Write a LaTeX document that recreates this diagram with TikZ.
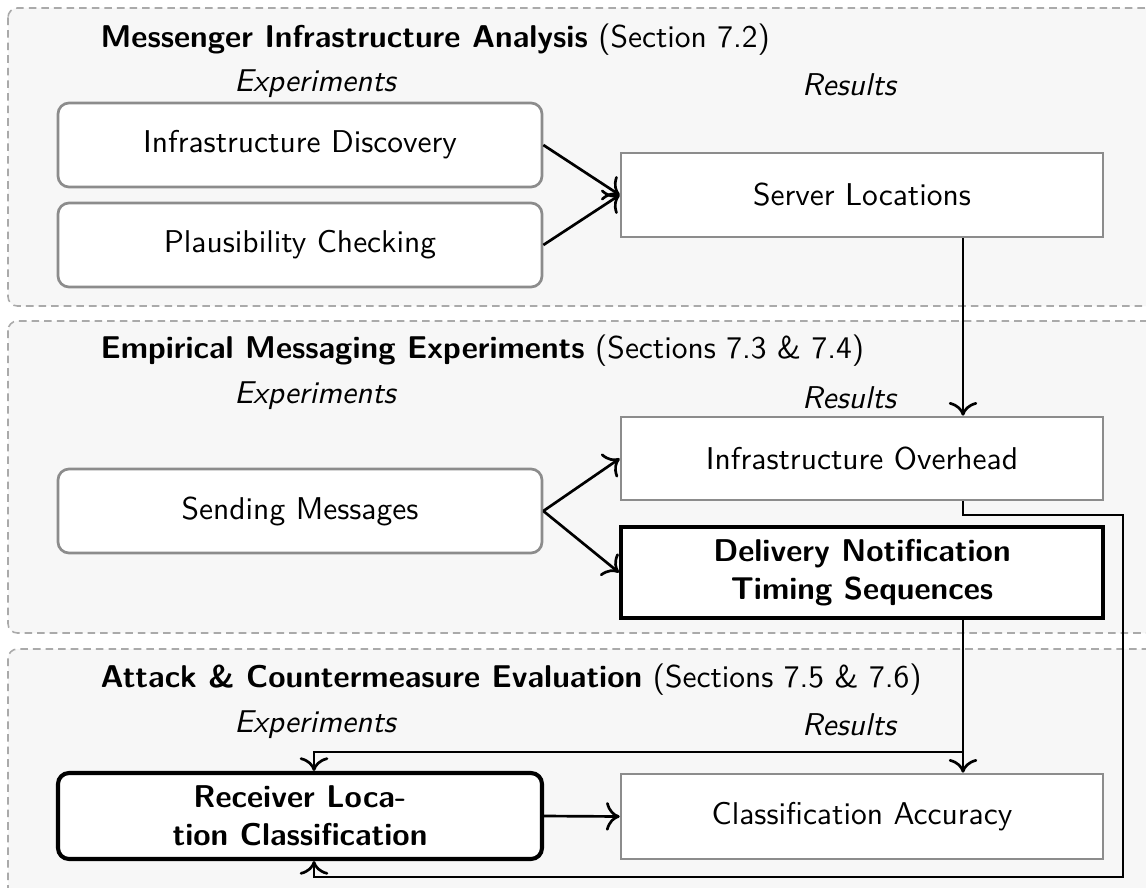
\documentclass[tikz,border=0pt]{standalone}
\usetikzlibrary{calc,arrows.meta}
\definecolor{panelfill}{HTML}{F7F7F7}
\definecolor{paneldash}{HTML}{AAAAAA}
\definecolor{boxgray}{HTML}{8C8C8C}
\begin{document}
\begin{tikzpicture}[x=0.3175pt,y=-0.3175pt,
  panel/.style={fill=panelfill,draw=paneldash,line width=0.5pt,dash pattern=on 2.4pt off 1.6pt,rounded corners=3pt},
  expbox/.style={draw=boxgray,fill=white,line width=0.85pt,rounded corners=3.5pt,minimum width={484*0.3175pt},minimum height={84*0.3175pt},inner sep=0pt,font=\sffamily,align=center},
  resbox/.style={draw=boxgray,fill=white,line width=0.85pt,minimum width={482*0.3175pt},minimum height={84*0.3175pt},inner sep=0pt,font=\sffamily,align=center},
  keybox/.style={draw=black,line width=1.3pt,font=\sffamily\bfseries},
  ptitle/.style={anchor=base west,inner sep=0pt,font=\sffamily},
  colhead/.style={anchor=base,inner sep=0pt,font=\sffamily\itshape},
  arr/.style={-{To[scale=1.25]},line width=0.85pt,black}]
\path[use as bounding box] (0,0) rectangle (1146,888);
\clip (0,0) rectangle (1146,888);
\fill[white] (0,0) rectangle (1146,888);
% panels
\path[panel] (8,8) rectangle (1165,306);
\path[panel] (8,321) rectangle (1165,633);
\path[panel] (8,649) rectangle (1165,905);
% titles
\node[ptitle] (t1) at (100,48) {\textbf{Messenger Infrastructure Analysis} (Section 7.2)};
\node[ptitle] (t2) at (100,358) {\textbf{Empirical Messaging Experiments} (Sections 7.3 \& 7.4)};
\node[ptitle] (t3) at (100,687) {\textbf{Attack \& Countermeasure Evaluation} (Sections 7.5 \& 7.6)};
\node[colhead] (e1) at (315,92) {Experiments};
\node[colhead] (e2) at (315,403) {Experiments};
\node[colhead] (e3) at (315,732) {Experiments};
\node[colhead] (r1) at (849,96) {Results};
\node[colhead] (r2) at (849,408) {Results};
\node[colhead] (r3) at (849,735) {Results};
% boxes
\node[expbox] (ID) at (300,145) {Infrastructure Discovery};
\node[expbox] (PC) at (300,245) {Plausibility Checking};
\node[resbox] (SL) at (862,195) {Server Locations};
\node[expbox] (SM) at (300,511) {Sending Messages};
\node[resbox,minimum height={83*0.3175pt}] (IO) at (862,458.5) {Infrastructure Overhead};
\node[resbox,keybox,minimum height={91*0.3175pt}] (DN) at (862,572.5) {Delivery Notification\\Timing Sequences};
\node[expbox,keybox,minimum height={86*0.3175pt}] (RLC) at (300,816) {Receiver Loca-\\tion Classification};
\node[resbox,minimum height={85*0.3175pt}] (CA) at (862,816.5) {Classification Accuracy};
% helper coordinates
\coordinate (cx) at (963,0);
\coordinate (lx) at (314,0);
\coordinate (elbow) at (1123,515);
\coordinate (rb) at (1123,877);
\coordinate (split) at (963,752);
% connectors
\draw[arr] (ID.east) -- (SL.west);
\draw[arr] (PC.east) -- (SL.west);
\draw[arr] (SL.south -| cx) -- (IO.north -| cx);
\draw[arr] (SM.east) -- (IO.west);
\draw[arr] (SM.east) -- (DN.west);
\draw[arr] (IO.south -| cx) |- (elbow) -- (rb) -| (RLC.south -| lx);
\draw[arr] (DN.south -| cx) -- (CA.north -| cx);
\draw[arr] (split) -| (RLC.north -| lx);
\draw[arr] (RLC.east) -- (CA.west);
\end{tikzpicture}
\end{document}
